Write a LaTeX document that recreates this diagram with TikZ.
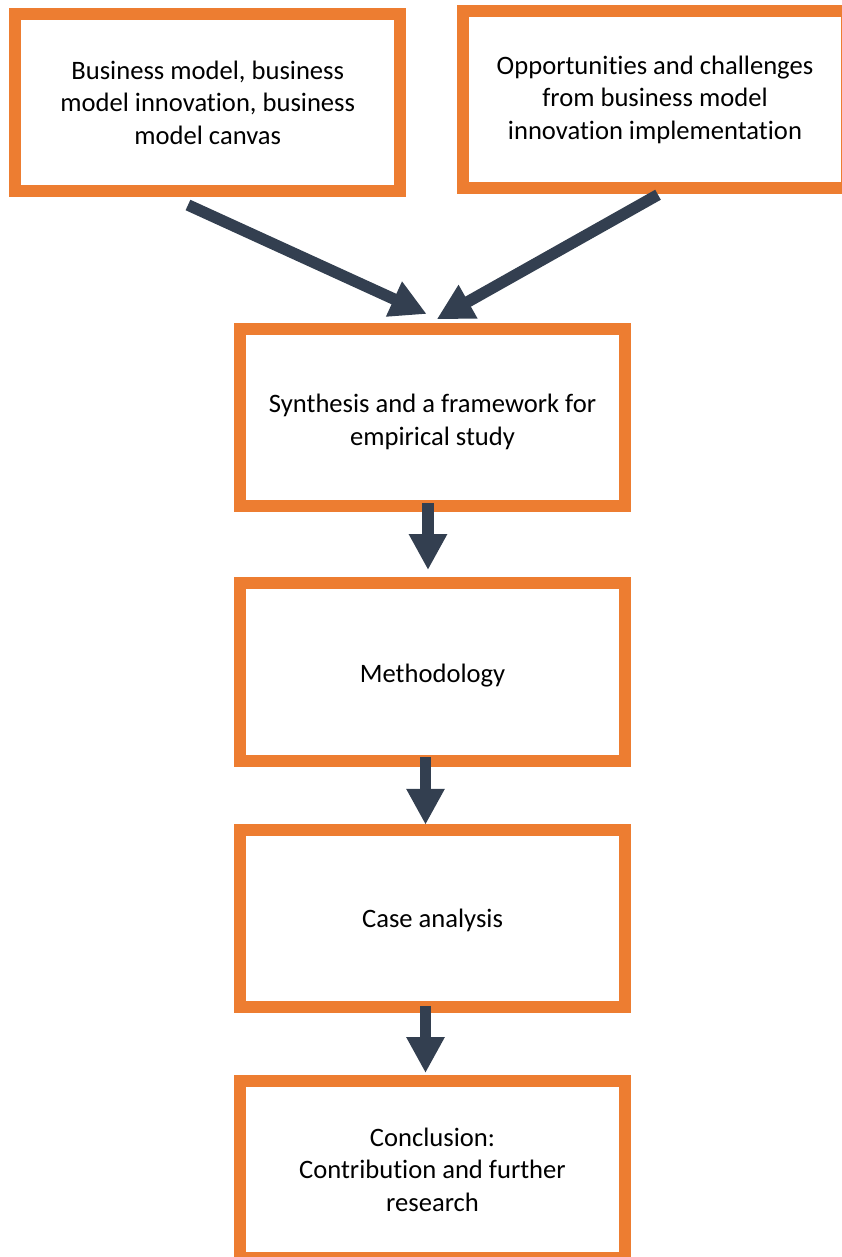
\documentclass[tikz,border=0pt]{standalone}
\usepackage{fontspec}
\setmainfont[Ligatures=NoCommon]{Carlito}
\usetikzlibrary{arrows.meta}
\definecolor{boxorange}{HTML}{ED7D31}
\definecolor{arrnavy}{HTML}{333F50}
\tikzset{
  stagebox/.style={draw=boxorange, line width=12pt, fill=white, rectangle, inner sep=0pt,
    minimum width=385pt, minimum height=177pt, align=center,
    font=\fontsize{26.6}{32.5}\selectfont, text=black},
  flowarrow/.style={draw=arrnavy, line width=11.5pt,
    -{Triangle[length=36pt,width=36pt]}, arrnavy}
}
\begin{document}
\begin{tikzpicture}[x=1pt,y=-1pt]
\useasboundingbox (0,0) rectangle (841,1257);
\node[stagebox] (b1) at (207.75,102.5) {Business model, business\\model innovation, business\\model canvas};
\node[stagebox, minimum width=384pt] (b2) at (655,99.75) {Opportunities and challenges\\from business model\\innovation implementation};
\node[stagebox] (b3) at (432.5,417.5) {\raisebox{-5pt}[\height][\depth]{\begin{tabular}{@{}c@{}}Synthesis and a framework for\\empirical study\end{tabular}}};
\node[stagebox, minimum height=178pt] (b4) at (432.5,672) {\raisebox{-4pt}[\height][\depth]{Methodology}};
\node[stagebox] (b5) at (432.5,918.25) {\raisebox{-2pt}[\height][\depth]{Case analysis}};
\node[stagebox] (b6) at (432.5,1169.5) {Conclusion:\\Contribution and further\\research};
\draw[flowarrow] ([xshift=-19.75pt,yshift=-8pt]b1.south) -- ([xshift=-5.8pt,yshift=9pt]b3.north);
\draw[flowarrow] ([xshift=3pt,yshift=-0.5pt]b2.south) -- ([xshift=4.2pt,yshift=3.7pt]b3.north);
\draw[flowarrow] ([xshift=-4.5pt,yshift=9pt]b3.south) -- ([xshift=-4.5pt,yshift=7pt]b4.north);
\draw[flowarrow] ([xshift=-7pt,yshift=10pt]b4.south) -- ([xshift=-7pt,yshift=-1pt]b5.north);
\draw[flowarrow] ([xshift=-7pt,yshift=7pt]b5.south) -- ([xshift=-7pt,yshift=2pt]b6.north);
\end{tikzpicture}
\end{document}
